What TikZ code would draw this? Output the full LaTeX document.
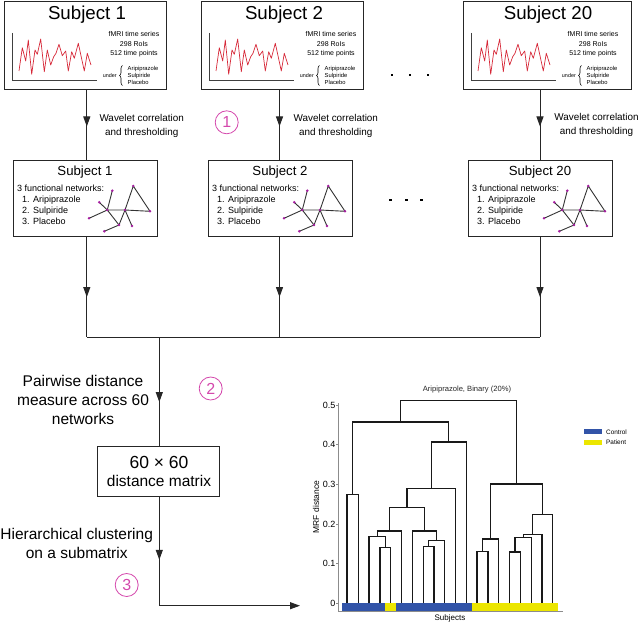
\documentclass[tikz,border=0pt]{standalone}
\usepackage{fontspec}
\setmainfont{Liberation Sans}
\usetikzlibrary{arrows.meta,decorations.markings,decorations.pathreplacing,calc}
\definecolor{magnum}{RGB}{212,72,172}
\definecolor{tsred}{RGB}{214,40,56}
\definecolor{nodepurple}{RGB}{165,30,160}
\definecolor{ctrlblue}{RGB}{50,84,168}
\definecolor{patyellow}{RGB}{236,230,0}
\newcommand\fsz[2]{\fontsize{#1}{#2}\selectfont}

\newcommand\TopBox[5]{% name, left, width, title, title-x
  \node[box, minimum width=#3pt, minimum height=88pt, anchor=north west] (#1) at (#2,1) {};
  \begin{scope}[shift={(#2,1)}]
    \node[font=\fsz{18.7}{22}] (#1-title) at (#5,13.5) {#4};
    \draw[axisline] (8.3,32) -- (8.3,79) -- (92.7,79);
    \draw[tsline] (15,70) -- (18.3,46.7) -- (21.7,60) -- (24.3,39) -- (27.7,73.3) -- (31,49) -- (33.3,53.3) -- (36.7,38) -- (40.3,70.7) -- (43.3,49) -- (46.7,64) -- (49.7,55.7) -- (52,52.3) -- (55,43.3) -- (58.3,54.7) -- (61.7,50) -- (64.3,70) -- (67.7,50.7) -- (70.3,57.3) -- (74.3,42.3) -- (80.3,70) -- (83.3,52.3) -- (87,64);
    \node[align=center, font=\fsz{7}{9.4}, inner sep=0pt] (#1-info) at (130,43.5) {fMRI time series\\298 RoIs\\512 time points};
    \node[anchor=east, inner sep=0pt, font=\fsz{5.4}{6}] (#1-under) at (113,74.5) {under};
    \draw[line width=0.6pt, decorate, decoration={brace, amplitude=3pt}] (118.5,84.5) -- (118.5,64.5);
    \node[anchor=west, align=left, inner sep=0pt, font=\fsz{5.8}{6.8}] (#1-cond) at (123.5,74.5) {Aripiprazole\\Sulpiride\\Placebo};
  \end{scope}}

\newcommand\NetBox[4]{% name, left, top, title
  \node[box, minimum width=144pt, minimum height=76pt, anchor=north west] (#1) at (#2,#3) {};
  \begin{scope}[shift={(#2,#3)}]
    \node[font=\fsz{13.2}{15}] (#1-title) at (72,12) {#4};
    \node[anchor=west, align=left, inner sep=0pt, font=\fsz{9}{10.9}] (#1-list) at (4,44.5) {3 functional networks:\\\hspace*{5pt}1. Aripiprazole\\\hspace*{5pt}2. Sulpiride\\\hspace*{5pt}3. Placebo};
    \coordinate (#1-A) at (99.3,30.7);
    \coordinate (#1-B) at (120.3,26);
    \coordinate (#1-C) at (86.3,42.3);
    \coordinate (#1-D) at (94.3,50);
    \coordinate (#1-E) at (112,50);
    \coordinate (#1-F) at (137,51.3);
    \coordinate (#1-G) at (106,65);
    \coordinate (#1-H) at (119,66);
    \coordinate (#1-I) at (91.3,71.3);
    \coordinate (#1-J) at (76,58.3);
    \draw[netedge] (#1-A) -- (#1-D) (#1-C) -- (#1-D) (#1-J) -- (#1-D) (#1-D) -- (#1-E) -- (#1-F) -- (#1-B) -- (#1-E)
      (#1-D) -- (#1-G) -- (#1-E) (#1-E) -- (#1-H) (#1-G) -- (#1-I);
    \foreach \p in {A,B,C,D,E,F,G,H,I,J} \fill[nodepurple] (#1-\p) circle (1.4pt);
  \end{scope}}

\newcommand\Mrg[5]{\draw[dend] (#1,{603.3-396.7*#2}) -- (#1,{603.3-396.7*#5}) -- (#3,{603.3-396.7*#5}) -- (#3,{603.3-396.7*#4});}

\begin{document}
\begin{tikzpicture}[x=1pt,y=-1pt,
  box/.style={draw=black!85, line width=1.2pt, inner sep=0pt},
  axisline/.style={draw=black!75, line width=0.8pt},
  tsline/.style={draw=tsred, line width=0.7pt, line join=round},
  netedge/.style={draw=black!80, line width=0.9pt},
  flow/.style={line width=1pt, draw=black!85},
  midarrow/.style={flow, postaction={decorate}, decoration={markings, mark=at position #1 with {\arrow{Triangle[length=10pt,width=7pt]}}}},
  circnum/.style={circle, draw=magnum, text=magnum, line width=0.8pt, minimum size=23pt, inner sep=0pt, font=\fsz{16}{18}},
  steplabel/.style={align=center, inner sep=0pt},
  dend/.style={line width=1.35pt, draw=black!90, line join=miter}]
\useasboundingbox (0,0) rectangle (640,623);

% top row
\TopBox{s1}{4}{162}{Subject 1}{83}
\TopBox{s2}{201}{162}{Subject 2}{83}
\TopBox{s20}{463}{168}{Subject 20}{85}
\foreach \x in {392,410,428} \fill ({\x-1.3},73.7) rectangle ++(2.6,2.6);

% second row
\NetBox{n1}{13}{160}{Subject 1}
\NetBox{n2}{208}{160}{Subject 2}
\NetBox{n20}{468}{160}{Subject 20}
\foreach \x in {390.7,406.7,421.7} \fill ({\x-1.3},198.7) rectangle ++(2.6,2.6);

% column coordinates
\coordinate (cA) at (86.8,0);
\coordinate (cB) at (279.5,0);
\coordinate (cC) at (540,0);
\coordinate (jA) at (86.8,337);
\coordinate (jB) at (279.5,337);
\coordinate (jC) at (540,337);
\coordinate (jT) at (159.3,337);
\coordinate (jBot) at (159.3,605.7);
\coordinate (dend) at (300,605.7);

\draw[midarrow=0.52] (s1.south -| cA) -- (n1.north -| cA);
\draw[midarrow=0.52] (s2.south -| cB) -- (n2.north -| cB);
\draw[midarrow=0.52] (s20.south -| cC) -- (n20.north -| cC);

\node[steplabel, font=\fsz{9.9}{13.3}] (w1) at (141.7,126) {Wavelet correlation\\and thresholding};
\node[steplabel, font=\fsz{9.9}{13.3}] (w2) at (335.8,126) {Wavelet correlation\\and thresholding};
\node[steplabel, font=\fsz{9.9}{13.3}] (w3) at (596.5,125) {Wavelet correlation\\and thresholding};
\node[circnum] (k1) at (226.7,122.3) {1};

\draw[midarrow=0.6] (n1.south -| cA) -- (jA);
\draw[midarrow=0.6] (n2.south -| cB) -- (jB);
\draw[midarrow=0.6] (n20.south -| cC) -- (jC);
\draw[flow] (jA) -- (jC);

% distance matrix
\node[box, line width=1pt, minimum width=122pt, minimum height=50pt] (mat) at (158.3,471) {};
\node[font=\fsz{17.5}{19}] (mat-a) at (159,462) {60 × 60};
\node[font=\fsz{15.5}{18}] (mat-b) at (159,481) {distance matrix};

\draw[midarrow=0.6] (jT) -- (mat.north -| jT);
\node[steplabel, font=\fsz{15.5}{19.3}] (pw) at (83,400) {Pairwise distance\\measure across 60\\networks};
\node[circnum] (k2) at (210.7,388.5) {2};

\draw[midarrow=0.58] (mat.south -| jT) -- (jBot);
\draw[flow, -{Triangle[length=10pt,width=7pt]}] (jBot) -- (dend);
\node[steplabel, font=\fsz{15.5}{18.7}] (hc) at (76.7,543.3) {Hierarchical clustering\\on a submatrix};
\node[circnum] (k3) at (126.7,585) {3};

% dendrogram
\fill[ctrlblue] (342,602.7) rectangle (385.3,610.7);
\fill[patyellow] (385.3,602.7) rectangle (396.2,610.7);
\fill[ctrlblue] (396.2,602.7) rectangle (471.5,610.7);
\fill[patyellow] (471.5,602.7) rectangle (558,610.7);
\draw[draw=black!45, line width=0.8pt] (338,403) -- (338,611) -- (563,611);
\foreach \v in {1,...,5} {
  \draw[draw=black!45, line width=0.6pt] (338,{603.3-39.67*\v}) -- ++(-2,0);
  \node[anchor=east, inner sep=0pt, font=\fsz{9}{10}] (tick\v) at (335.5,{603.3-39.67*\v}) {0.\v};
}
\draw[draw=black!45, line width=0.6pt] (338,603.3) -- ++(-2,0);
\node[anchor=east, inner sep=0pt, font=\fsz{9}{10}] (tick0) at (335.5,603.3) {0};

\Mrg{347}{0}{358.3}{0}{0.275}
\Mrg{380}{0}{390.7}{0}{0.14}
\Mrg{369}{0}{385.3}{0.14}{0.168}
\Mrg{377.2}{0.168}{401.7}{0}{0.182}
\Mrg{423.3}{0}{434}{0}{0.143}
\Mrg{428.7}{0.143}{444.7}{0}{0.158}
\Mrg{412.3}{0}{436.7}{0.158}{0.182}
\Mrg{389.4}{0.182}{424.5}{0.182}{0.241}
\Mrg{407}{0.241}{455.7}{0}{0.289}
\Mrg{431.3}{0.289}{466.3}{0}{0.407}
\Mrg{352.7}{0.275}{448.8}{0.407}{0.457}
\Mrg{477}{0}{488}{0}{0.13}
\Mrg{482.5}{0.13}{498.7}{0}{0.162}
\Mrg{509.7}{0}{520.3}{0}{0.129}
\Mrg{515}{0.129}{531.3}{0}{0.166}
\Mrg{523.2}{0.166}{542}{0}{0.173}
\Mrg{532.6}{0.173}{552.7}{0}{0.224}
\Mrg{490.6}{0.162}{542.6}{0.224}{0.301}
\Mrg{400.7}{0.457}{516.6}{0.301}{0.511}

\node[font=\fsz{7.6}{9}, text=black!85] (dtitle) at (467,390) {Aripiprazole, Binary (20\%)};
\node[rotate=90, font=\fsz{8.5}{10}] (ylab) at (316,507) {MRF distance};
\node[font=\fsz{8}{10}] (xlab) at (450,618.5) {Subjects};

\fill[ctrlblue] (584,429.3) rectangle (601.5,434.3);
\node[anchor=west, inner sep=0pt, font=\fsz{6.4}{7}] (lg1) at (606,431.8) {Control};
\fill[patyellow] (584,440) rectangle (601.5,445);
\node[anchor=west, inner sep=0pt, font=\fsz{6.4}{7}] (lg2) at (606,442.5) {Patient};
\end{tikzpicture}
\end{document}
